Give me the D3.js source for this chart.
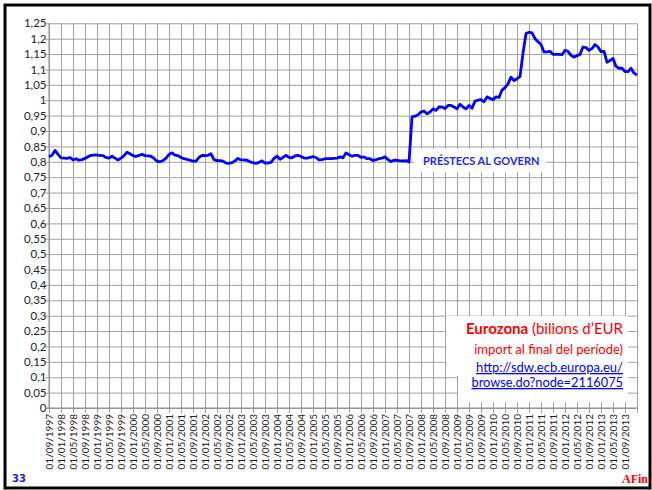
<!DOCTYPE html>
<html><head><meta charset="utf-8">
<script src="https://cdn.jsdelivr.net/npm/d3@7"></script>
<style>body{margin:0;background:#fff}svg{display:block}</style>
</head><body>
<script>
const values = [
0.816,0.821,0.837,0.824,0.813,0.812,0.811,0.814,0.806,0.810,
0.805,0.807,0.811,0.816,0.821,0.822,0.822,0.821,0.820,0.814,
0.812,0.818,0.812,0.806,0.812,0.820,0.831,0.826,0.820,0.817,
0.821,0.824,0.820,0.819,0.818,0.811,0.802,0.800,0.804,0.812,
0.824,0.829,0.822,0.820,0.814,0.810,0.808,0.805,0.802,0.802,
0.814,0.821,0.820,0.821,0.826,0.807,0.804,0.804,0.802,0.796,
0.795,0.797,0.803,0.811,0.806,0.806,0.805,0.800,0.797,0.795,
0.798,0.803,0.796,0.796,0.798,0.811,0.818,0.808,0.814,0.821,
0.814,0.813,0.819,0.821,0.817,0.812,0.812,0.814,0.817,0.814,
0.806,0.807,0.810,0.810,0.810,0.811,0.812,0.816,0.813,0.829,
0.823,0.818,0.821,0.821,0.814,0.816,0.810,0.810,0.804,0.807,
0.810,0.812,0.816,0.807,0.801,0.805,0.805,0.803,0.803,0.804,
0.799,0.946,0.948,0.953,0.962,0.965,0.956,0.962,0.972,0.967,
0.978,0.978,0.973,0.983,0.983,0.978,0.972,0.987,0.978,0.972,
0.983,0.974,0.997,1.000,1.002,0.995,1.011,1.006,1.002,1.011,
1.009,1.033,1.041,1.053,1.075,1.064,1.070,1.077,1.153,1.217,
1.221,1.219,1.200,1.190,1.181,1.157,1.157,1.159,1.149,1.149,
1.149,1.148,1.162,1.159,1.146,1.140,1.145,1.149,1.173,1.171,
1.162,1.168,1.181,1.173,1.158,1.159,1.123,1.129,1.136,1.110,
1.104,1.104,1.093,1.093,1.104,1.088,1.082
];
const tickLabels = [
"01/09/1997","01/01/1998","01/05/1998","01/09/1998","01/01/1999","01/05/1999","01/09/1999",
"01/01/2000","01/05/2000","01/09/2000","01/01/2001","01/05/2001","01/09/2001",
"01/01/2002","01/05/2002","01/09/2002","01/01/2003","01/05/2003","01/09/2003",
"01/01/2004","01/05/2004","01/09/2004","01/01/2005","01/05/2005","01/09/2005",
"01/01/2006","01/05/2006","01/09/2006","01/01/2007","01/05/2007","01/09/2007",
"01/01/2008","01/05/2008","01/09/2008","01/01/2009","01/05/2009","01/09/2009",
"01/01/2010","01/05/2010","01/09/2010","01/01/2011","01/05/2011","01/09/2011",
"01/01/2012","01/05/2012","01/09/2012","01/01/2013","01/05/2013","01/09/2013"
];
const yTicks = [0,0.05,0.1,0.15,0.2,0.25,0.3,0.35,0.4,0.45,0.5,0.55,0.6,0.65,0.7,0.75,0.8,0.85,0.9,0.95,1,1.05,1.1,1.15,1.2,1.25];
const seriesLabel = "PRÉSTECS AL GOVERN";

const W = 652, H = 490;
const svg = d3.select("body").append("svg").attr("width", W).attr("height", H);
const font = "Lato, 'Open Sans', sans-serif";

const x = d3.scaleLinear().domain([0, values.length - 1]).range([49, 637]);
const y = d3.scaleLinear().domain([0, 1.25]).range([408, 23.3]);
const fmt = v => String(+v.toFixed(2)).replace(".", ",");

// frame
svg.append("rect").attr("x", 5).attr("y", 5).attr("width", 645).attr("height", 483)
  .attr("fill", "#fff").attr("stroke", "#000").attr("stroke-width", 3);

// horizontal gridlines via axis
const yAxis = d3.axisLeft(y).tickValues(yTicks).tickSize(-(637 - 45)).tickPadding(3).tickFormat(fmt);
const gy = svg.append("g").attr("transform", "translate(45,0)").call(yAxis);
gy.select(".domain").remove();
gy.selectAll(".tick line").attr("stroke", "#a0a0a0").attr("x1", 0).attr("x2", 637 - 45);
gy.selectAll(".tick text").attr("font-family", font).attr("font-size", 11.5).attr("fill", "#222")
  .attr("x", 1.5);

// vertical gridlines via axis on index
const vIdx = d3.range(0, values.length, 4);
const xAxis = d3.axisBottom(x).tickValues(vIdx).tickSize(-(413 - 23.3)).tickFormat((d) => tickLabels[d / 4] || "");
const gx = svg.append("g").attr("transform", "translate(0,413)").call(xAxis);
gx.select(".domain").remove();
gx.selectAll(".tick line").attr("stroke", "#a0a0a0");
gx.selectAll(".tick text")
  .attr("font-family", font).attr("font-size", 10).attr("fill", "#222")
  .attr("transform", "rotate(-90)").attr("text-anchor", "end")
  .attr("x", -1).attr("y", 0).attr("dy", "0.35em");

// axis lines
svg.append("line").attr("x1", 49).attr("x2", 49).attr("y1", 23.3).attr("y2", 408).attr("stroke", "#8c8c8c");
svg.append("line").attr("x1", 45).attr("x2", 637).attr("y1", 408).attr("y2", 408).attr("stroke", "#8c8c8c");

// label box
svg.append("rect").attr("x", 414).attr("y", 149).attr("width", 132).attr("height", 23).attr("fill", "#fff");

// legend boxes
svg.append("rect").attr("x", 446).attr("y", 316).attr("width", 182).attr("height", 60).attr("fill", "#fff");
svg.append("rect").attr("x", 458).attr("y", 370).attr("width", 170).attr("height", 32.5).attr("fill", "#fff");

// line
const line = d3.line().x((d, i) => x(i)).y(d => y(d));
svg.append("path").datum(values).attr("d", line).attr("fill", "none")
  .attr("stroke", "#0000ff").attr("stroke-width", 2.8).attr("stroke-linejoin", "round");

svg.append("text").attr("x", 423).attr("y", 165).attr("font-family", font).attr("font-weight", "bold")
  .attr("font-size", 11).attr("fill", "#1f1fff").text(seriesLabel);

// legend text
const t1 = svg.append("text").attr("x", 623).attr("y", 334).attr("text-anchor", "end")
  .attr("font-family", font).attr("font-size", 15).attr("fill", "#ff0000");
t1.append("tspan").attr("font-weight", "bold").text("Eurozona");
t1.append("tspan").text(" (bilions d’EUR");
svg.append("text").attr("x", 623).attr("y", 354).attr("text-anchor", "end")
  .attr("font-family", font).attr("font-size", 13).attr("fill", "#ff0000").text("import al final del període)");
svg.append("text").attr("x", 623).attr("y", 372).attr("text-anchor", "end")
  .attr("font-family", font).attr("font-size", 13).attr("fill", "#0000ff")
  .attr("text-decoration", "underline").text("http://sdw.ecb.europa.eu/");
svg.append("text").attr("x", 623).attr("y", 387).attr("text-anchor", "end")
  .attr("font-family", font).attr("font-size", 12.8).attr("fill", "#0000ff")
  .attr("text-decoration", "underline").text("browse.do?node=2116075");

// footer
svg.append("text").attr("x", 12).attr("y", 482).attr("font-family", "'DejaVu Sans', sans-serif")
  .attr("font-weight", "bold").attr("font-size", 10).attr("fill", "#1a1aff").text("33");
svg.append("text").attr("x", 648).attr("y", 483).attr("text-anchor", "end")
  .attr("font-family", "'Liberation Serif', serif").attr("font-weight", "bold")
  .attr("font-size", 12).attr("fill", "#ff0000").text("AFin");
</script>
</body></html>
